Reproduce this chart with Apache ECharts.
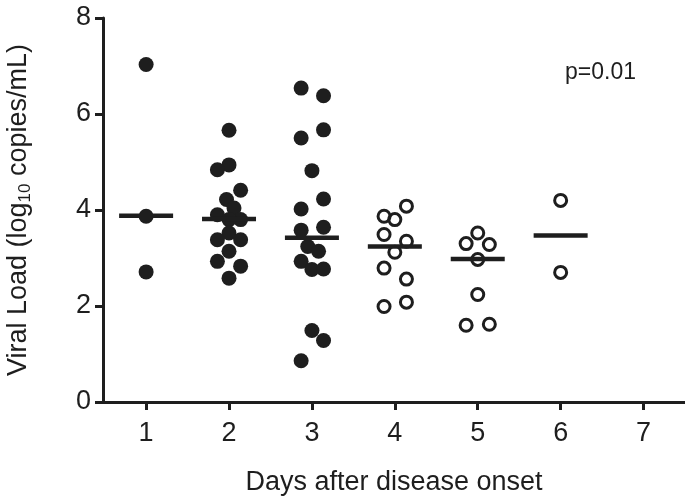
<!DOCTYPE html>
<html>
<head>
<meta charset="utf-8">
<script src="https://cdn.jsdelivr.net/npm/echarts@6/dist/echarts.min.js"></script>
<style>
html,body{margin:0;padding:0;background:#fff;}
#chart{width:685px;height:501px;}
</style>
</head>
<body>
<div id="chart"></div>
<script>
// Tick labels (days)
const dayTicks = [1, 2, 3, 4, 5, 6, 7];
const yTicks = [0, 2, 4, 6, 8];

// Values (log10 copies/mL) and horizontal jitter (in days)
const day1Values = [7.03, 3.87, 2.71];
const day1Jitter = [0, 0, 0];
const day2Values = [5.66, 4.94, 4.84, 4.41, 4.22, 4.04, 3.90, 3.80, 3.80, 3.52, 3.38, 3.38, 3.14, 2.93, 2.83, 2.58];
const day2Jitter = [0, 0, -0.14, 0.14, -0.03, 0.06, -0.14, 0.14, 0, 0, -0.14, 0.14, 0, -0.14, 0.14, 0];
const day3Values = [6.54, 6.38, 5.67, 5.50, 4.82, 4.23, 4.02, 3.64, 3.58, 3.24, 3.14, 2.93, 2.76, 2.77, 1.49, 1.28, 0.86];
const day3Jitter = [-0.13, 0.14, 0.14, -0.13, 0, 0.14, -0.13, 0.14, -0.13, -0.05, 0.08, -0.13, 0, 0.14, 0, 0.14, -0.13];
const day4Values = [4.08, 3.87, 3.80, 3.49, 3.35, 3.12, 2.79, 2.56, 1.99, 2.08];
const day4Jitter = [0.14, -0.13, 0, -0.13, 0.14, 0, -0.13, 0.14, -0.13, 0.14];
const day5Values = [3.52, 3.30, 3.28, 2.97, 2.24, 1.60, 1.62];
const day5Jitter = [0, -0.14, 0.14, 0, 0, -0.14, 0.14];
const day6Values = [4.20, 2.70];
const day6Jitter = [0, 0];
const medianDays = [1, 2, 3, 4, 5, 6];
const medianValues = [3.88, 3.81, 3.42, 3.24, 2.98, 3.47];

function pts(day, values, jitter) {
  return values.map((v, i) => [day + jitter[i], v]);
}
const filled = [].concat(
  pts(1, day1Values, day1Jitter),
  pts(2, day2Values, day2Jitter),
  pts(3, day3Values, day3Jitter)
);
const open = [].concat(
  pts(4, day4Values, day4Jitter),
  pts(5, day5Values, day5Jitter),
  pts(6, day6Values, day6Jitter)
);
const medians = medianDays.map((d, i) => [d, medianValues[i]]);

const INK = '#1e1e1e';
const FONT = '"Liberation Sans", Arial, sans-serif';

const chart = echarts.init(document.getElementById('chart'), null, {renderer: 'canvas'});
chart.setOption({
  animation: false,
  backgroundColor: '#fff',
  grid: {left: 103, right: 0, top: 18, bottom: 99, containLabel: false, outerBoundsMode: 'none'},
  xAxis: {
    type: 'value',
    min: 0.48,
    max: 7.5,
    name: 'Days after disease onset',
    nameLocation: 'middle',
    nameGap: 67,
    nameTextStyle: {fontSize: 27, color: INK, fontFamily: FONT},
    axisLine: {show: true, onZero: false, lineStyle: {color: INK, width: 3}},
    axisTick: {show: true, customValues: dayTicks, length: 8, lineStyle: {color: INK, width: 3}},
    axisLabel: {customValues: dayTicks, fontSize: 27, color: INK, fontFamily: FONT, margin: 18},
    splitLine: {show: false}
  },
  yAxis: {
    type: 'value',
    min: 0,
    max: 8,
    interval: 2,
    name: 'Viral Load (log{sub|10} copies/mL)',
    nameLocation: 'middle',
    nameGap: 69,
    nameTextStyle: {
      fontSize: 27, color: INK, fontFamily: FONT, lineHeight: 31,
      rich: {sub: {fontSize: 17, color: INK, fontFamily: FONT, lineHeight: 17, verticalAlign: 'bottom'}}
    },
    axisLine: {show: true, lineStyle: {color: INK, width: 3}},
    axisTick: {show: true, length: 8, lineStyle: {color: INK, width: 3}},
    axisLabel: {fontSize: 27, color: INK, fontFamily: FONT, margin: 12,
      customValues: yTicks},
    splitLine: {show: false}
  },
  series: [
    {
      type: 'scatter',
      data: filled,
      symbol: 'circle',
      symbolSize: 15,
      itemStyle: {color: INK, opacity: 1},
      z: 2
    },
    {
      type: 'scatter',
      data: open,
      symbol: 'circle',
      symbolSize: 12,
      itemStyle: {color: 'transparent', borderColor: INK, borderWidth: 3, opacity: 1},
      z: 2
    },
    {
      type: 'scatter',
      data: medians,
      symbol: 'rect',
      symbolSize: [54, 4.5],
      itemStyle: {color: INK, opacity: 1},
      z: 3
    }
  ],
  graphic: [{
    type: 'text',
    left: 565,
    top: 61,
    style: {text: 'p=0.01', fontSize: 23, fill: INK, fontFamily: FONT}
  }]
});
</script>
</body>
</html>
